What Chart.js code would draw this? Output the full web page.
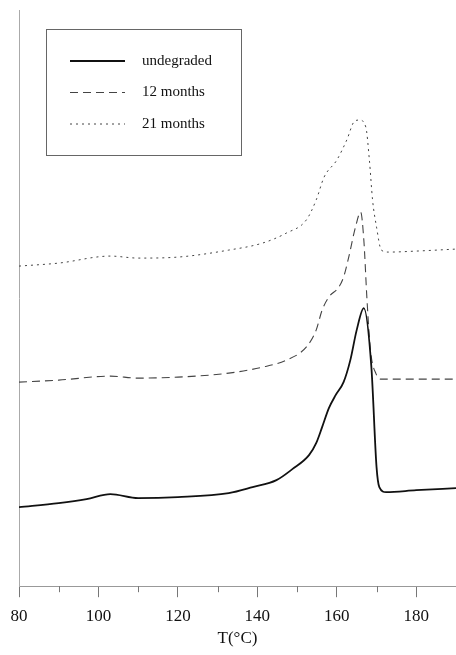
<!DOCTYPE html>
<html>
<head>
<meta charset="utf-8">
<script src="https://cdn.jsdelivr.net/npm/chart.js@4"></script>
<style>
  html, body { margin: 0; padding: 0; background: #fff; }
  #wrap { width: 456px; height: 655px; }
</style>
</head>
<body>
<div id="wrap"><canvas id="dscChart"></canvas></div>
<script>
// DSC curves, heat flow in arbitrary units (offset per curve)
const seriesNames = ['undegraded', '12 months', '21 months'];

const tempUndegraded = [80, 90, 97, 103, 110, 120, 132.8, 138.8, 144.8, 148.8, 153, 154.8, 156.3, 158, 159.7, 161.7, 163.4, 165, 166.8, 168.7, 170, 170.7, 172.4, 180, 190];
const heatUndegraded = [7.9, 8.3, 8.7, 9.2, 8.8, 8.9, 9.3, 9.9, 10.6, 11.7, 13.1, 14.3, 15.9, 17.8, 19.1, 20.4, 22.6, 25.6, 27.8, 21.9, 11.9, 9.9, 9.4, 9.6, 9.8];

const temp12m = [80, 90, 103, 110, 120, 132.8, 141.3, 147.3, 152.3, 154.8, 156.3, 158, 160.5, 161.7, 163, 164.7, 166, 166.8, 167.6, 168.5, 169.9, 171, 180, 190];
const heat12m = [20.4, 20.6, 21.0, 20.8, 20.9, 21.3, 21.9, 22.6, 23.9, 25.6, 27.6, 28.9, 29.9, 30.9, 32.9, 35.9, 37.4, 34.6, 28.6, 23.5, 21.2, 20.7, 20.7, 20.7];

const temp21m = [80, 90, 103, 110, 120, 132.8, 141.3, 147.3, 152.3, 154.8, 156.8, 160, 162.5, 164.5, 165.7, 167.3, 168.2, 169, 170, 171.2, 173, 180, 190];
const heat21m = [32.0, 32.3, 33.0, 32.8, 32.9, 33.6, 34.3, 35.3, 36.6, 38.6, 40.9, 42.6, 44.6, 46.5, 46.6, 45.9, 42.6, 38.6, 35.9, 33.6, 33.4, 33.5, 33.7];

const xTicks = [80, 100, 120, 140, 160, 180];
const xMinorTicks = [90, 110, 130, 150, 170];

function toPoints(xs, ys) {
    return xs.map((x, i) => ({ x: x, y: ys[i] }));
}

// minor ticks under the x axis
const minorTicks = {
    id: 'minorTicks',
    afterDraw(chart) {
        const ctx = chart.ctx;
        const xs = chart.scales.x;
        ctx.save();
        ctx.strokeStyle = '#777';
        ctx.lineWidth = 1;
        xMinorTicks.forEach(v => {
            const px = Math.round(xs.getPixelForValue(v)) + 0.5;
            ctx.beginPath();
            ctx.moveTo(px, xs.top);
            ctx.lineTo(px, xs.top + 6);
            ctx.stroke();
        });
        ctx.restore();
    }
};

// boxed legend inside the plot
const boxLegend = {
    id: 'boxLegend',
    afterDraw(chart) {
        const ctx = chart.ctx;
        const area = chart.chartArea;
        const bx = area.left + 27, by = area.top + 19, bw = 195, bh = 126;
        ctx.save();
        ctx.strokeStyle = '#666';
        ctx.lineWidth = 1;
        ctx.strokeRect(bx + 0.5, by + 0.5, bw, bh);
        ctx.font = '15px "Liberation Serif", serif';
        ctx.fillStyle = '#111';
        ctx.textBaseline = 'middle';
        chart.data.datasets.forEach((ds, i) => {
            const ly = by + 32 + i * 31.5;
            ctx.beginPath();
            ctx.setLineDash(ds.borderDash || []);
            ctx.strokeStyle = ds.borderColor;
            ctx.lineWidth = ds.borderWidth;
            ctx.moveTo(bx + 24, ly);
            ctx.lineTo(bx + 79, ly);
            ctx.stroke();
            ctx.setLineDash([]);
            ctx.fillText(ds.label, bx + 96, ly);
        });
        ctx.restore();
    }
};

const dscCtx = document.getElementById('dscChart').getContext('2d');
const dscConfig = {
    type: 'line',
    data: {
        datasets: [{
            label: seriesNames[0],
            data: toPoints(tempUndegraded, heatUndegraded),
            borderColor: '#111',
            borderWidth: 1.8,
            borderDash: [],
            pointRadius: 0,
            cubicInterpolationMode: 'monotone'
        }, {
            label: seriesNames[1],
            data: toPoints(temp12m, heat12m),
            borderColor: '#444',
            borderWidth: 1.1,
            borderDash: [8, 5],
            pointRadius: 0,
            cubicInterpolationMode: 'monotone'
        }, {
            label: seriesNames[2],
            data: toPoints(temp21m, heat21m),
            borderColor: '#444',
            borderWidth: 1,
            borderDash: [2, 4],
            pointRadius: 0,
            cubicInterpolationMode: 'monotone'
        }]
    },
    options: {
        responsive: true,
        maintainAspectRatio: false,
        animation: false,
        layout: { padding: { left: 11, top: 10, right: 0, bottom: 6 } },
        plugins: {
            legend: { display: false },
            tooltip: { enabled: false }
        },
        scales: {
            x: {
                type: 'linear',
                min: 80,
                max: 190,
                afterBuildTicks: (axis) => { axis.ticks = xTicks.map(v => ({ value: v })); },
                afterFit: (axis) => { axis.height -= 7; },
                ticks: {
                    color: '#111',
                    font: { family: '"Liberation Serif", serif', size: 17 },
                    padding: 9,
                    maxRotation: 0
                },
                grid: { drawOnChartArea: false, tickLength: 11, color: '#777' },
                border: { color: '#999', width: 1 },
                title: {
                    display: true,
                    text: 'T(°C)',
                    color: '#111',
                    font: { family: '"Liberation Serif", serif', size: 17 },
                    padding: { top: 0, bottom: 0 }
                }
            },
            y: {
                min: 0,
                max: 57.6,
                ticks: { display: false },
                grid: { display: false },
                border: { color: '#aaa', width: 1 }
            }
        }
    },
    plugins: [minorTicks, boxLegend]
};
const dscChart = new Chart(dscCtx, dscConfig);
</script>
</body>
</html>
